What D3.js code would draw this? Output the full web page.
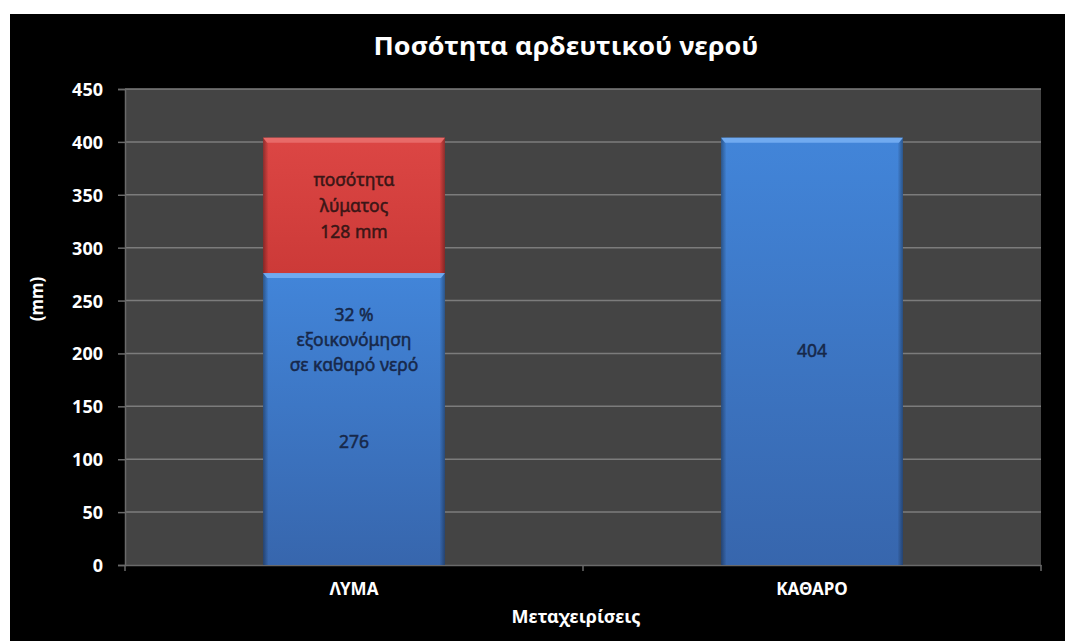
<!DOCTYPE html>
<html><head><meta charset="utf-8">
<script src="https://cdn.jsdelivr.net/npm/d3@7"></script>
<style>body{margin:0;background:#fff}svg{display:block}</style>
</head><body>
<svg id="c" width="1065" height="641"></svg>
<script>
const categories = ["ΛΥΜΑ", "ΚΑΘΑΡΟ"];
const cleanWater = [276, 404];
const wastewater = [128, 0];
const yTicks = [0, 50, 100, 150, 200, 250, 300, 350, 400, 450];
const title = "Ποσότητα αρδευτικού νερού";
const yLabel = "(mm)";
const xLabel = "Μεταχειρίσεις";
const blueLabels = [["32 %", "εξοικονόμηση", "σε καθαρό νερό"], []];
const blueValueLabels = ["276", "404"];
const redLabels = [["ποσότητα", "λύματος", "128 mm"], []];

const svg = d3.select("#c");
const font = "'Noto Sans', 'Open Sans', sans-serif";
svg.append("rect").attr("x", 10).attr("y", 14).attr("width", 1055).attr("height", 627).attr("fill", "#000");

const m = {l: 125, r: 1041, t: 89, b: 565};
const x = d3.scaleBand().domain(categories).range([m.l, m.r]).paddingInner(0.603).paddingOuter(0.3015);
const xc = d3.scaleBand().domain(categories).range([m.l, m.r]);
const y = d3.scaleLinear().domain([0, 450]).range([m.b, m.t]);

const defs = svg.append("defs");
function grad(id, stops) {
  const g = defs.append("linearGradient").attr("id", id).attr("x1", 0).attr("y1", 0).attr("x2", 0).attr("y2", 1);
  stops.forEach(s => g.append("stop").attr("offset", s[0]).attr("stop-color", s[1]));
}
grad("gBlue", [[0, "#4285d9"], [1, "#3766ad"]]);
grad("gRed", [[0, "#dc4644"], [1, "#cc3a38"]]);
const ge = defs.append("linearGradient").attr("id", "gEdge").attr("x1", 0).attr("y1", 0).attr("x2", 1).attr("y2", 0);
[[0, 0.35], [0.03, 0], [0.97, 0], [1, 0.35]].forEach(s => ge.append("stop").attr("offset", s[0]).attr("stop-color", "#000").attr("stop-opacity", s[1]));

svg.append("rect").attr("x", m.l).attr("y", m.t).attr("width", m.r - m.l).attr("height", m.b - m.t).attr("fill", "#444444");

// gridlines
svg.append("g").selectAll("line").data(yTicks.filter(d => d > 0)).join("line")
  .attr("x1", m.l).attr("x2", m.r).attr("y1", d => y(d)).attr("y2", d => y(d))
  .attr("stroke", "#7c7c7c").attr("stroke-width", 1.5);

// y axis
const ya = svg.append("g").attr("transform", `translate(${m.l},0)`)
  .call(d3.axisLeft(y).tickValues(yTicks).tickSize(7).tickPadding(15));
ya.select(".domain").attr("stroke", "#6a6a6a").attr("stroke-width", 1.5);
ya.selectAll(".tick line").attr("stroke", "#6a6a6a").attr("stroke-width", 1.5);
ya.selectAll("text").attr("fill", "#fff").attr("font-family", font).attr("font-weight", "bold").attr("font-size", 18).attr("dy", "0.36em");

// x axis
const xa = svg.append("g").attr("transform", `translate(0,${m.b})`)
  .call(d3.axisBottom(xc).tickSize(0).tickPadding(18));
xa.select(".domain").attr("stroke", "#6a6a6a").attr("stroke-width", 1.5);
xa.selectAll("text").attr("fill", "#fff").attr("font-family", font).attr("font-weight", "bold").attr("font-size", 17);
svg.append("g").selectAll("line").data([m.l, (m.l + m.r) / 2, m.r]).join("line")
  .attr("x1", d => d).attr("x2", d => d).attr("y1", m.b).attr("y2", m.b + 6)
  .attr("stroke", "#6a6a6a").attr("stroke-width", 1.5);

// bars
function drawBars(base, vals, fill, topCol) {
  const g = svg.append("g");
  const data = categories.map((c, i) => ({c, y0: base[i], y1: base[i] + vals[i]})).filter(d => d.y1 > d.y0);
  g.selectAll("rect.main").data(data).join("rect").attr("class", "main")
    .attr("x", d => x(d.c)).attr("width", x.bandwidth())
    .attr("y", d => y(d.y1)).attr("height", d => y(d.y0) - y(d.y1)).attr("fill", fill);
  g.selectAll("rect.edge").data(data).join("rect").attr("class", "edge")
    .attr("x", d => x(d.c)).attr("width", x.bandwidth())
    .attr("y", d => y(d.y1)).attr("height", d => y(d.y0) - y(d.y1)).attr("fill", "url(#gEdge)");
  g.selectAll("path.top").data(data).join("path").attr("class", "top")
    .attr("d", d => { const x0 = x(d.c), w = x.bandwidth(), t = y(d.y1);
      return `M${x0},${t}L${x0 + w},${t}L${x0 + w - 4},${t + 5}L${x0 + 4},${t + 5}Z`; })
    .attr("fill", topCol);
}
drawBars([0, 0], cleanWater, "url(#gBlue)", "#70aaf0");
drawBars(cleanWater, wastewater, "url(#gRed)", "#e86a68");

// bar labels
const lab = svg.append("g").attr("font-family", font).attr("font-size", 17.5).attr("text-anchor", "middle").attr("stroke-width", 0.5);
categories.forEach((c, i) => {
  const cx = x(c) + x.bandwidth() / 2;
  const rl = redLabels[i];
  if (rl.length) {
    const mid = y(cleanWater[i] + wastewater[i] / 2);
    rl.forEach((t, k) => lab.append("text").attr("x", cx).attr("y", mid + (k - 1) * 26 + 7)
      .attr("fill", "#3a1616").attr("stroke", "#3a1616").text(t));
  }
  const bl = blueLabels[i];
  bl.forEach((t, k) => lab.append("text").attr("x", cx).attr("y", y(213) + (k - 1) * 25 + 6)
    .attr("fill", "#17284a").attr("stroke", "#17284a").text(t));
  const vy = bl.length ? y(116) : y(cleanWater[i] / 2);
  lab.append("text").attr("x", cx).attr("y", vy + 6).attr("fill", "#17284a").attr("stroke", "#17284a").text(blueValueLabels[i]);
});

// titles
svg.append("text").attr("x", 566).attr("y", 55).attr("text-anchor", "middle").attr("fill", "#fff")
  .attr("font-family", font).attr("font-weight", "bold").attr("font-size", 25)
  .attr("textLength", 385).attr("lengthAdjust", "spacingAndGlyphs").text(title);
svg.append("text").attr("transform", "translate(43,299) rotate(-90)").attr("text-anchor", "middle").attr("fill", "#fff")
  .attr("font-family", font).attr("font-weight", "bold").attr("font-size", 17).text(yLabel);
svg.append("text").attr("x", 576).attr("y", 623).attr("text-anchor", "middle").attr("fill", "#fff")
  .attr("font-family", font).attr("font-weight", "bold").attr("font-size", 18).text(xLabel);
</script>
</body></html>
